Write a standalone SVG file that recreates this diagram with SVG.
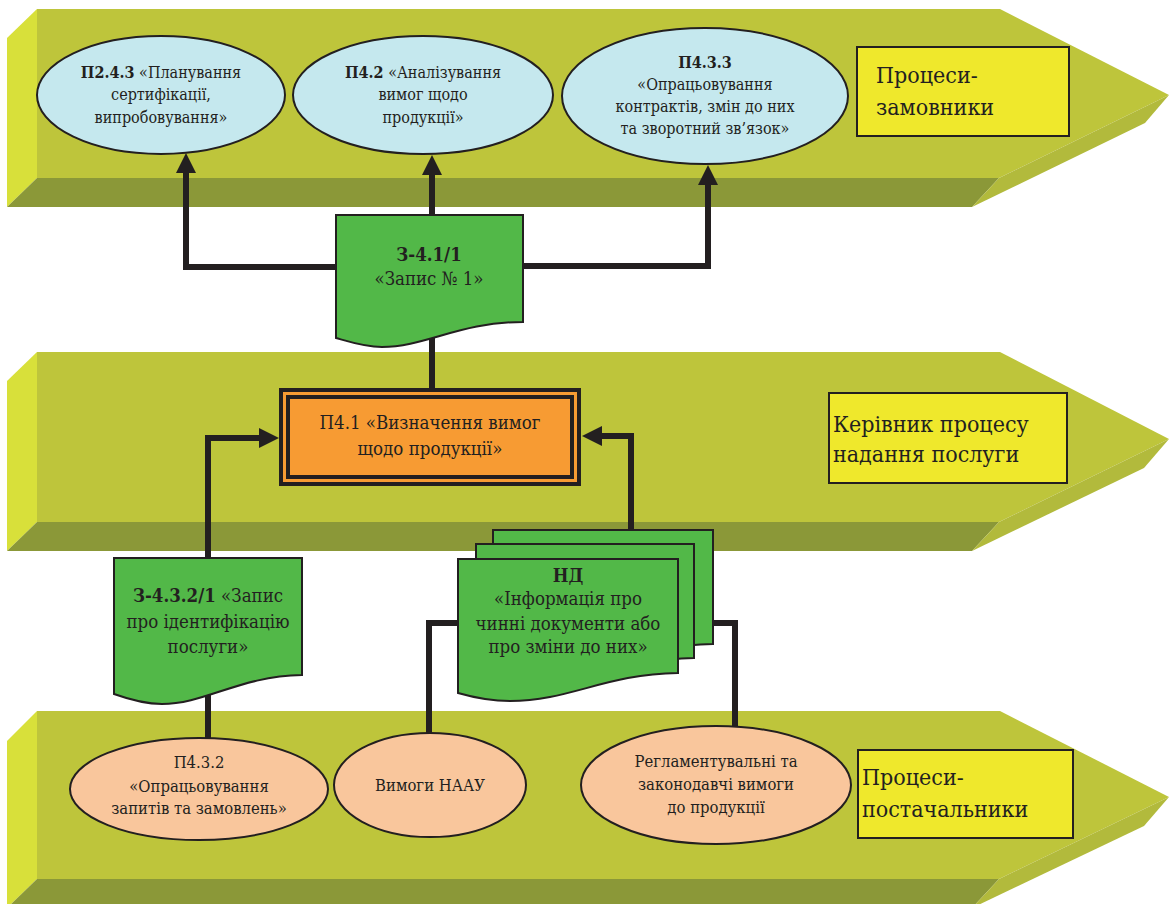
<svg xmlns="http://www.w3.org/2000/svg" width="1169" height="904" viewBox="0 0 1169 904">
<defs>
<style>
.main{fill:#bec53b}
.left{fill:#d8e03a}
.bot{fill:#8b9838}
.rlow{fill:#b2ba3c}
.ln{fill:none;stroke:#231f20;stroke-width:6}
.blue{fill:#c5e8ee;stroke:#231f20;stroke-width:2}
.peach{fill:#f9c69c;stroke:#231f20;stroke-width:2}
.doc{fill:#52b848;stroke:#231f20;stroke-width:2}
.ybox{fill:#efe82c;stroke:#231f20;stroke-width:2}
text{font-family:'DejaVu Serif Condensed','DejaVu Serif','Liberation Serif',serif;fill:#231f20}
.t16{font-size:16px;font-stretch:condensed}
.t15{font-size:16.5px;font-stretch:condensed}
.t18{font-size:18.5px;font-stretch:condensed}
.t23{font-size:23px;font-stretch:condensed}
.c{text-anchor:middle}
.b{font-weight:bold}
</style>
<marker id="arr" viewBox="0 0 20 20" markerWidth="20" markerHeight="20" markerUnits="userSpaceOnUse" refX="0" refY="10" orient="auto">
<path d="M0,0 L20,10 L0,20 Z" fill="#231f20"/>
</marker>
</defs>

<g id="band-top">
<polygon class="left" points="37,9 7,38 7,207 37,178"/>
<polygon class="main" points="37,9 1000,9 1169,95 999,178 37,178"/>
<polygon class="bot" points="37,178 999,178 972,207 7,207"/>
<polygon class="rlow" points="999,178 1169,95 1145,123 972,207"/>
</g>
<g id="band-mid">
<polygon class="left" points="37,352 7,381 7,551 37,522"/>
<polygon class="main" points="37,352 1000,352 1169,439 999,522 37,522"/>
<polygon class="bot" points="37,522 999,522 972,551 7,551"/>
<polygon class="rlow" points="999,522 1169,439 1144,468 972,551"/>
</g>
<g id="band-bot">
<polygon class="left" points="37,711 7,741 7,908 37,879"/>
<polygon class="main" points="37,711 1000,711 1169,797 999,879 37,879"/>
<polygon class="bot" points="37,879 999,879 972,908 7,908"/>
<polygon class="rlow" points="999,879 1169,797 1144,826 972,908"/>
</g>

<g id="connectors">
<path class="ln" d="M336,267 H186 V173" marker-end="url(#arr)"/>
<path class="ln" d="M432,215 V175" marker-end="url(#arr)"/>
<path class="ln" d="M523,266 H708 V185" marker-end="url(#arr)"/>
<path class="ln" d="M432,335 V390"/>
<path class="ln" d="M208,558 V438 H259" marker-end="url(#arr)"/>
<path class="ln" d="M631,530 V436 H602" marker-end="url(#arr)"/>
<path class="ln" d="M208,695 V739"/>
<path class="ln" d="M458,623 H429 V734"/>
<path class="ln" d="M713,623 H735 V727"/>
</g>

<g id="n-p243">
<ellipse class="blue" cx="161" cy="95" rx="124" ry="59"/>
<text class="t16 c" x="161" y="78"><tspan class="b">П2.4.3</tspan> «Планування</text>
<text class="t16 c" x="161" y="100">сертифікації,</text>
<text class="t16 c" x="161" y="123">випробовування»</text>
</g>
<g id="n-p42">
<ellipse class="blue" cx="423" cy="95" rx="130" ry="59"/>
<text class="t16 c" x="423" y="78"><tspan class="b">П4.2</tspan> «Аналізування</text>
<text class="t16 c" x="423" y="100">вимог щодо</text>
<text class="t16 c" x="423" y="123">продукції»</text>
</g>
<g id="n-p433">
<ellipse class="blue" cx="705" cy="96" rx="143" ry="68"/>
<text class="t16 c b" x="705" y="68">П4.3.3</text>
<text class="t16 c" x="705" y="90">«Опрацьовування</text>
<text class="t16 c" x="705" y="112">контрактів, змін до них</text>
<text class="t16 c" x="705" y="134">та зворотний зв’язок»</text>
</g>
<g id="n-zamovnyky">
<rect class="ybox" x="857" y="47" width="212" height="89"/>
<text class="t23" x="876" y="83">Процеси-</text>
<text class="t23" x="876" y="115">замовники</text>
</g>

<g id="n-doc341">
<path class="doc" d="M336,215 H523 V322 C460,322 425,347 382,347 C365,347 350,342 336,338 Z"/>
<text class="t18 c b" x="429" y="261">З-4.1/1</text>
<text class="t18 c" x="429" y="285">«Запис № 1»</text>
</g>

<g id="n-p41">
<rect x="281" y="390" width="298" height="94" fill="#f79b33" stroke="#231f20" stroke-width="4"/>
<rect x="288" y="397" width="284" height="80" fill="#f79b33" stroke="#231f20" stroke-width="4"/>
<text class="t18 c" x="430" y="429">П4.1 «Визначення вимог</text>
<text class="t18 c" x="430" y="455">щодо продукції»</text>
</g>

<g id="n-kerivnyk">
<rect class="ybox" x="829" y="393" width="238" height="90"/>
<text class="t23" x="833" y="432">Керівник процесу</text>
<text class="t23" x="833" y="462">надання послуги</text>
</g>

<g id="n-doc3432">
<path class="doc" d="M114,558 H302 V675 C240,676 205,704 162,704 C145,704 128,699 114,694 Z"/>
<text class="t18 c" x="208" y="602"><tspan class="b">З-4.3.2/1</tspan> «Запис</text>
<text class="t18 c" x="208" y="628">про ідентифікацію</text>
<text class="t18 c" x="208" y="653">послуги»</text>
</g>

<g id="n-nd">
<path class="doc" d="M493,530 H713 V644 C640,645 605,672 545,672 C525,672 507,668 493,664 Z"/>
<path class="doc" d="M476,544 H694 V658 C622,659 587,686 527,686 C507,686 490,682 476,678 Z"/>
<path class="doc" d="M458,559 H678 V673 C605,674 570,701 510,701 C490,701 472,697 458,693 Z"/>
<text class="t18 c b" x="568" y="582">НД</text>
<text class="t18 c" x="568" y="605">«Інформація про</text>
<text class="t18 c" x="568" y="630">чинні документи або</text>
<text class="t18 c" x="568" y="653">про зміни до них»</text>
</g>

<g id="n-p432">
<ellipse class="peach" cx="199" cy="789" rx="129" ry="51"/>
<text class="t15 c" x="199" y="768">П4.3.2</text>
<text class="t15 c" x="199" y="792">«Опрацьовування</text>
<text class="t15 c" x="199" y="814">запитів та замовлень»</text>
</g>
<g id="n-naau">
<ellipse class="peach" cx="430" cy="785" rx="96" ry="52"/>
<text class="t15 c" x="430" y="791">Вимоги НААУ</text>
</g>
<g id="n-reglament">
<ellipse class="peach" cx="716" cy="785" rx="135" ry="59"/>
<text class="t15 c" x="716" y="767">Регламентувальні та</text>
<text class="t15 c" x="716" y="790">законодавчі вимоги</text>
<text class="t15 c" x="716" y="813">до продукції</text>
</g>
<g id="n-postachalnyky">
<rect class="ybox" x="858" y="750" width="215" height="88"/>
<text class="t23" x="862" y="785">Процеси-</text>
<text class="t23" x="862" y="817">постачальники</text>
</g>
</svg>
